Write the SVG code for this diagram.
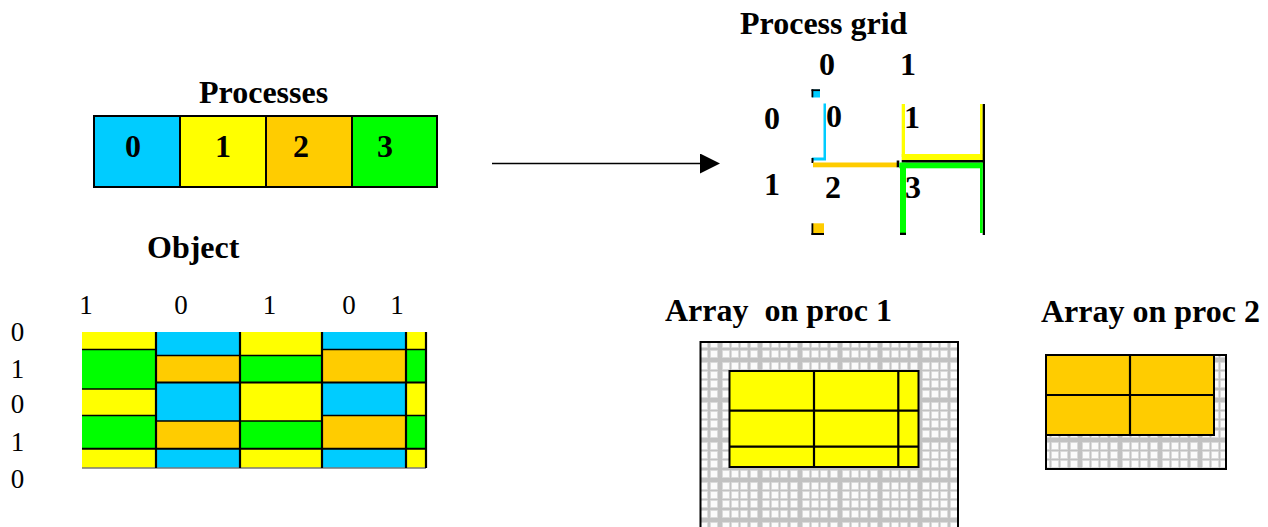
<svg xmlns="http://www.w3.org/2000/svg" width="1268" height="527" viewBox="0 0 1268 527">
  <style>
    .title { font-family: "Liberation Serif", "Times New Roman", serif; font-weight: bold; font-size: 32px; fill: #000; white-space: pre; }
    .bnum { font-family: "Liberation Serif", "Times New Roman", serif; font-weight: bold; font-size: 32px; fill: #000; }
    .num { font-family: "Liberation Serif", "Times New Roman", serif; font-size: 27px; fill: #000; }
    .cyan { fill: #00CCFF; }
    .yel { fill: #FFFF00; }
    .org { fill: #FFCC00; }
    .grn { fill: #00FF00; }
    .blk { fill: #000; }
    .cell { stroke: #000; stroke-width: 2; }
    .hl { stroke: #000; stroke-width: 1.6; }
    .vl { stroke: #000; stroke-width: 2.2; }
    .box { fill: url(#mesh); stroke: #000; stroke-width: 2; }
  </style>
  <defs>
    <!-- light gray mesh used as the background of the local arrays -->
    <g id="hole">
      <rect x="-0.8" y="-0.8" width="7.6" height="7.6" fill="#e2e2e2"/>
      <rect width="6" height="6" fill="#fbfbfb"/>
    </g>
    <pattern id="mesh" width="40" height="40" patternUnits="userSpaceOnUse">
      <rect width="40" height="40" fill="#c2c2c2"/>
      <use href="#hole" x="3" y="3"/><use href="#hole" x="12" y="3"/><use href="#hole" x="21" y="3"/><use href="#hole" x="31" y="3"/>
      <use href="#hole" x="3" y="12"/><use href="#hole" x="12" y="12"/><use href="#hole" x="21" y="12"/><use href="#hole" x="31" y="12"/>
      <use href="#hole" x="3" y="21"/><use href="#hole" x="12" y="21"/><use href="#hole" x="21" y="21"/><use href="#hole" x="31" y="21"/>
      <use href="#hole" x="3" y="31"/><use href="#hole" x="12" y="31"/><use href="#hole" x="21" y="31"/><use href="#hole" x="31" y="31"/>
    </pattern>
    <marker id="arrowhead" markerWidth="20" markerHeight="20" refX="0" refY="10" orient="auto" markerUnits="userSpaceOnUse">
      <path d="M0,0 L20,10 L0,20 Z" fill="#000"/>
    </marker>
  </defs>

  <!-- Processes: 1-D list of four processes -->
  <g id="processes">
    <text class="title" x="199" y="103">Processes</text>
    <g id="proc-0">
      <rect class="cell cyan" x="94" y="116" width="86" height="71"/>
      <text class="bnum" x="133" y="157" text-anchor="middle">0</text>
    </g>
    <g id="proc-1">
      <rect class="cell yel" x="180" y="116" width="86" height="71"/>
      <text class="bnum" x="223" y="157" text-anchor="middle">1</text>
    </g>
    <g id="proc-2">
      <rect class="cell org" x="266" y="116" width="86" height="71"/>
      <text class="bnum" x="301" y="157" text-anchor="middle">2</text>
    </g>
    <g id="proc-3">
      <rect class="cell grn" x="352" y="116" width="85" height="71"/>
      <text class="bnum" x="385" y="157" text-anchor="middle">3</text>
    </g>
  </g>

  <!-- Connectors -->
  <g id="connectors">
    <line x1="492" y1="163.5" x2="700" y2="163.5" stroke="#000" stroke-width="1.6" marker-end="url(#arrowhead)"/>
  </g>

  <!-- Process grid: 2 x 2 arrangement of the processes -->
  <g id="process-grid">
    <text class="title" x="740" y="34">Process grid</text>
    <text class="bnum" x="827" y="75" text-anchor="middle">0</text>
    <text class="bnum" x="908" y="75" text-anchor="middle">1</text>
    <text class="bnum" x="772" y="129" text-anchor="middle">0</text>
    <text class="bnum" x="772" y="195" text-anchor="middle">1</text>

    <!-- process 0 -->
    <rect class="cyan" x="812" y="89.5" width="8" height="8"/>
    <rect class="blk" x="811.5" y="89.3" width="8.5" height="1.8"/>
    <rect class="blk" x="811.5" y="89.3" width="1.8" height="8"/>
    <rect class="cyan" x="823.5" y="103.5" width="2.5" height="56.5"/>
    <rect class="cyan" x="812" y="157.5" width="14" height="3"/>
    <rect class="blk" x="811.5" y="158" width="2" height="5"/>
    <text class="bnum" x="826" y="127">0</text>

    <!-- process 2 -->
    <rect class="org" x="813" y="162.5" width="84" height="4.8"/>
    <rect class="blk" x="896.7" y="160.5" width="2.6" height="6.8"/>
    <rect class="org" x="813" y="223.3" width="11" height="10"/>
    <rect class="blk" x="811.5" y="223.3" width="1.8" height="11.7"/>
    <rect class="blk" x="811.5" y="233" width="12.5" height="2"/>
    <text class="bnum" x="825" y="198">2</text>

    <!-- process 1 -->
    <rect class="yel" x="901.7" y="104" width="3.3" height="53"/>
    <rect class="yel" x="901.7" y="154" width="81" height="6"/>
    <rect class="yel" x="980" y="104" width="2.7" height="56"/>
    <rect class="blk" x="982.7" y="104" width="2.3" height="131"/>
    <rect class="blk" x="901.7" y="160" width="83.3" height="2.7"/>
    <text class="bnum" x="904" y="128">1</text>

    <!-- process 3 -->
    <rect class="grn" x="899.3" y="162.7" width="83.4" height="5.6"/>
    <rect class="grn" x="900" y="162.7" width="6" height="70.3"/>
    <rect class="grn" x="980" y="162.7" width="2.7" height="70.3"/>
    <rect class="blk" x="900" y="232.7" width="6" height="2.3"/>
    <text class="bnum" x="905" y="198">3</text>
  </g>

  <!-- Object: block-cyclic distribution over the process grid -->
  <g id="object">
    <text class="title" x="147" y="258">Object</text>
    <g class="num" text-anchor="middle">
      <text x="86" y="314">1</text>
      <text x="181" y="314">0</text>
      <text x="269.5" y="314">1</text>
      <text x="349" y="314">0</text>
      <text x="397" y="314">1</text>
      <text x="17.5" y="341">0</text>
      <text x="17.5" y="378">1</text>
      <text x="17.5" y="413">0</text>
      <text x="17.5" y="451">1</text>
      <text x="17.5" y="488">0</text>
    </g>
    <!-- column 1 -->
    <rect class="yel" x="82" y="332" width="74" height="17.5"/>
    <rect class="grn" x="82" y="349.5" width="74" height="39.5"/>
    <rect class="yel" x="82" y="389" width="74" height="26.5"/>
    <rect class="grn" x="82" y="415.5" width="74" height="33.2"/>
    <rect class="yel" x="82" y="448.7" width="74" height="19.3"/>
    <!-- column 2 -->
    <rect class="cyan" x="156" y="332" width="84" height="23.5"/>
    <rect class="org" x="156" y="355.5" width="84" height="27"/>
    <rect class="cyan" x="156" y="382.5" width="84" height="38.5"/>
    <rect class="org" x="156" y="421" width="84" height="27.7"/>
    <rect class="cyan" x="156" y="448.7" width="84" height="19.3"/>
    <!-- column 3 -->
    <rect class="yel" x="240" y="332" width="82" height="23"/>
    <rect class="grn" x="240" y="355" width="82" height="27.5"/>
    <rect class="yel" x="240" y="382.5" width="82" height="38.5"/>
    <rect class="grn" x="240" y="421" width="82" height="27.7"/>
    <rect class="yel" x="240" y="448.7" width="82" height="19.3"/>
    <!-- column 4 -->
    <rect class="cyan" x="322" y="332" width="84" height="17.5"/>
    <rect class="org" x="322" y="349.5" width="84" height="33"/>
    <rect class="cyan" x="322" y="382.5" width="84" height="33"/>
    <rect class="org" x="322" y="415.5" width="84" height="33.2"/>
    <rect class="cyan" x="322" y="448.7" width="84" height="19.3"/>
    <!-- column 5 -->
    <rect class="yel" x="406" y="332" width="20" height="17.5"/>
    <rect class="grn" x="406" y="349.5" width="20" height="33"/>
    <rect class="yel" x="406" y="382.5" width="20" height="33"/>
    <rect class="grn" x="406" y="415.5" width="20" height="33.2"/>
    <rect class="yel" x="406" y="448.7" width="20" height="19.3"/>
    <!-- block borders -->
    <g class="hl">
      <line x1="82" y1="349.5" x2="156" y2="349.5"/>
      <line x1="82" y1="389" x2="156" y2="389"/>
      <line x1="82" y1="415.5" x2="156" y2="415.5"/>
      <line x1="156" y1="355.5" x2="322" y2="355.5"/>
      <line x1="156" y1="421" x2="322" y2="421"/>
      <line x1="322" y1="349.5" x2="426" y2="349.5"/>
      <line x1="322" y1="415.5" x2="426" y2="415.5"/>
      <line x1="156" y1="382.5" x2="426" y2="382.5" stroke-width="2"/>
      <line x1="82" y1="448.7" x2="426" y2="448.7" stroke-width="2"/>
      <line x1="82" y1="468" x2="426" y2="468" stroke="#777"/>
    </g>
    <g class="vl">
      <line x1="156" y1="332" x2="156" y2="468"/>
      <line x1="240" y1="332" x2="240" y2="468"/>
      <line x1="322" y1="332" x2="322" y2="468"/>
      <line x1="406" y1="332" x2="406" y2="468"/>
      <line x1="426" y1="332" x2="426" y2="468"/>
    </g>
  </g>

  <!-- Local array held by process 1 -->
  <g id="array-proc-1">
    <text class="title" x="665" y="321" xml:space="preserve">Array  on proc 1</text>
    <rect class="box" x="700.5" y="342" width="257.5" height="200"/>
    <rect class="cell yel" x="729.5" y="371" width="189" height="96"/>
    <g class="vl">
      <line x1="814" y1="371" x2="814" y2="467"/>
      <line x1="898.3" y1="371" x2="898.3" y2="467"/>
      <line x1="729.5" y1="410.7" x2="918.5" y2="410.7"/>
      <line x1="729.5" y1="446.7" x2="918.5" y2="446.7"/>
    </g>
  </g>

  <!-- Local array held by process 2 -->
  <g id="array-proc-2">
    <text class="title" x="1041" y="322">Array on proc 2</text>
    <rect class="box" x="1046" y="355" width="180" height="114"/>
    <rect class="cell org" x="1046" y="355" width="168" height="80"/>
    <g class="vl">
      <line x1="1130" y1="355" x2="1130" y2="435"/>
      <line x1="1046" y1="395" x2="1214" y2="395"/>
    </g>
  </g>
</svg>
